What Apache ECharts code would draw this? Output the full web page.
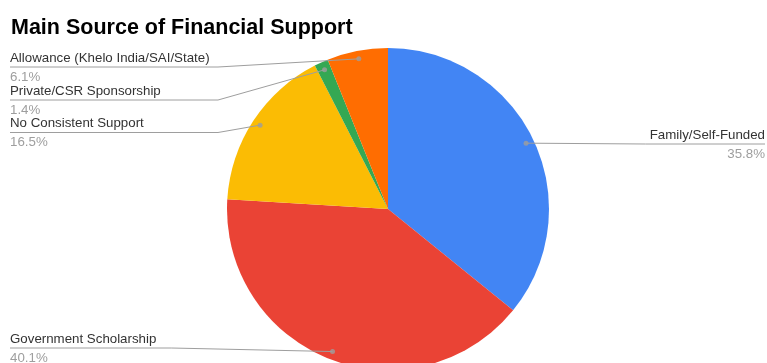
<!DOCTYPE html>
<html>
<head>
<meta charset="utf-8">
<script src="https://cdn.jsdelivr.net/npm/echarts@6/dist/echarts.min.js"></script>
<style>html,body{margin:0;padding:0;background:#fff;}#c{width:767px;height:363px;}</style>
</head>
<body>
<div id="c"></div>
<script>
const categories = ["Family/Self-Funded", "Government Scholarship", "No Consistent Support", "Private/CSR Sponsorship", "Allowance (Khelo India/SAI/State)"];
const values = [35.8, 40.1, 16.5, 1.4, 6.1];
const colors = ["#4285F4", "#EA4335", "#FBBC04", "#34A853", "#FF6D01"];
const titleText = "Main Source of Financial Support";

// label placement (layout only)
const labelSlots = [
  { side: "right", y: 144 },
  { side: "left", y: 348 },
  { side: "left", y: 132.5, elbow: 218 },
  { side: "left", y: 100, elbow: 218 },
  { side: "left", y: 67, elbow: 218 }
];

const W = 767, H = 363;
const CX = 388, CY = 209, R = 161, DOT = 0.95;
const FONT = "'Liberation Sans', Arial, sans-serif";

const total = values.reduce((a, b) => a + b, 0);
let cum = 0;
const dotData = values.map(v => { const m = cum + v / 2; cum += v; return [DOT, m]; });
const pieData = categories.map((c, i) => ({ name: c, value: values[i], itemStyle: { color: colors[i] } }));

const chart = echarts.init(document.getElementById("c"), null, { renderer: "canvas" });
chart.setOption({
  animation: false,
  backgroundColor: "#fff",
  title: {
    text: titleText, left: 6, top: 12,
    textStyle: { fontFamily: FONT, fontSize: 21.5, fontWeight: "bold", color: "#000" }
  },
  polar: { center: [CX, CY], radius: R },
  angleAxis: { type: "value", min: 0, max: total, startAngle: 90, clockwise: true, show: false },
  radiusAxis: { type: "value", min: 0, max: 1, show: false },
  series: [
    {
      type: "pie",
      center: [CX, CY],
      radius: R,
      startAngle: 90,
      clockwise: true,
      data: pieData,
      itemStyle: { borderWidth: 0 },
      label: { show: false },
      labelLine: { show: false },
      emphasis: { disabled: true },
      z: 1
    },
    {
      type: "pie",
      center: [CX, CY],
      radius: R,
      startAngle: 90,
      clockwise: true,
      avoidLabelOverlap: false,
      silent: true,
      data: pieData.map(d => ({ name: d.name, value: d.value })),
      itemStyle: { color: "rgba(0,0,0,0)", borderWidth: 0 },
      label: {
        show: true,
        position: "outer",
        fontFamily: FONT,
        formatter: p => `{n|${p.name}}\n{p|${p.value.toFixed(1)}%}`,
        rich: {
          n: { fontFamily: FONT, fontSize: 13.3, color: "#333333", lineHeight: 19 },
          p: { fontFamily: FONT, fontSize: 13.3, color: "#9e9e9e", lineHeight: 19 }
        }
      },
      labelLine: { show: true, length: 10, length2: 10, smooth: false, lineStyle: { color: "#9e9e9e", width: 1 } },
      labelLayout: function (params) {
        const s = labelSlots[params.dataIndex];
        const p0 = params.labelLinePoints[0];
        const dot = [CX + DOT * (p0[0] - CX), CY + DOT * (p0[1] - CY)];
        const endX = s.side === "left" ? 10 : W - 2;
        const mid = s.elbow ? [s.elbow, s.y] : [(dot[0] + endX) / 2, s.y];
        return {
          x: endX, y: s.y + 0.5,
          align: s.side === "left" ? "left" : "right",
          verticalAlign: "middle",
          labelLinePoints: [dot, mid, [endX, s.y]]
        };
      },
      emphasis: { disabled: true },
      z: 5
    },
    {
      type: "scatter",
      coordinateSystem: "polar",
      data: dotData,
      symbol: "circle",
      symbolSize: 5,
      itemStyle: { color: "#9e9e9e" },
      z: 10,
      silent: true
    }
  ]
});
</script>
</body>
</html>
